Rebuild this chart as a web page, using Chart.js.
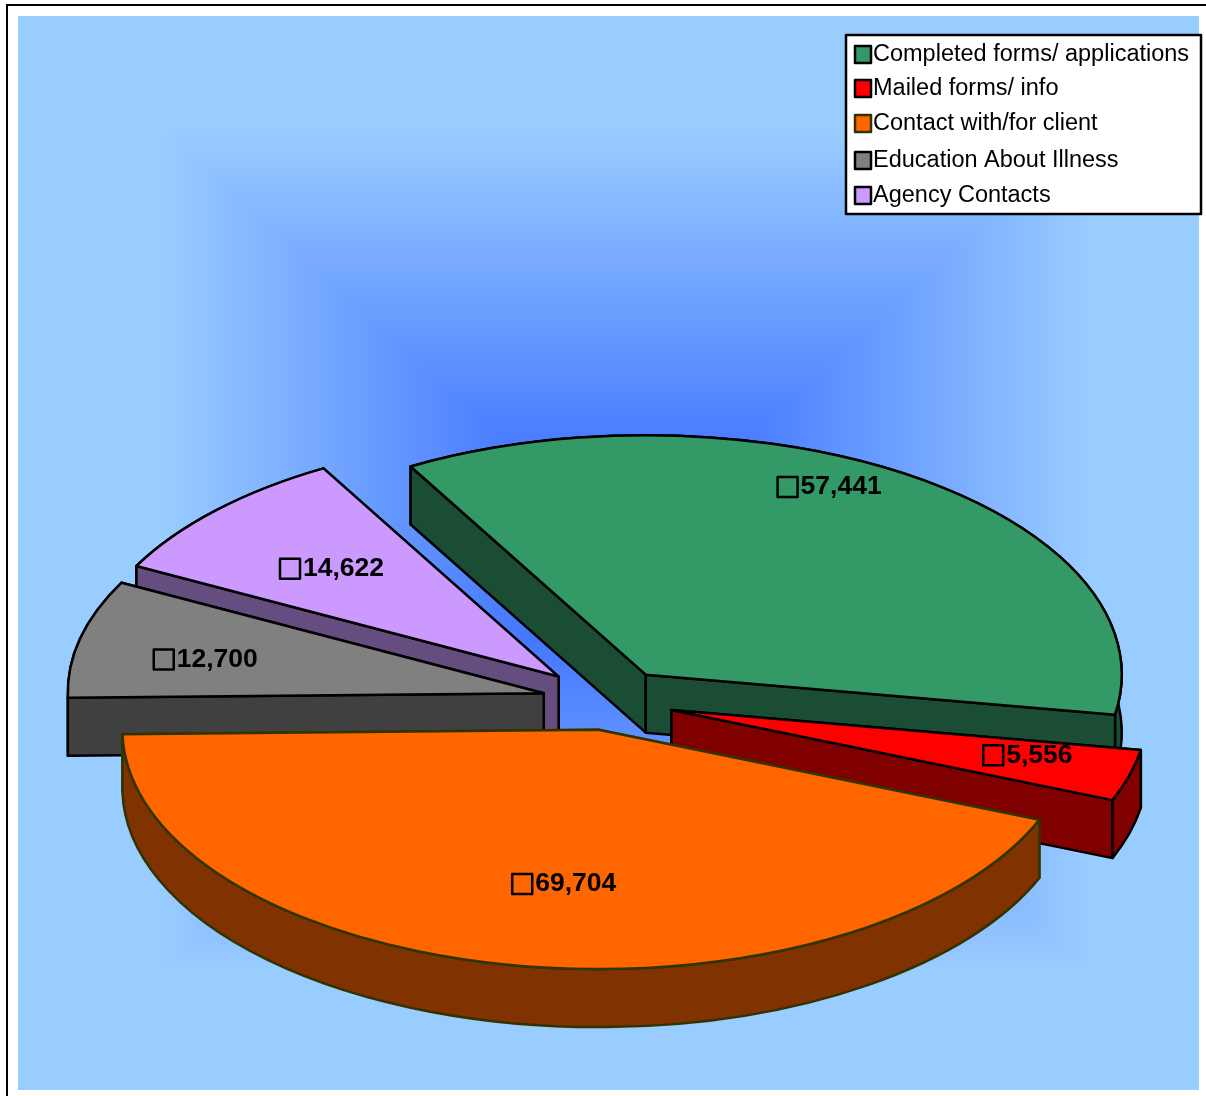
<!DOCTYPE html>
<html>
<head>
<meta charset="utf-8">
<style>
  html, body { margin: 0; padding: 0; background: #fff; }
  canvas { display: block; }
</style>
<script src="https://cdn.jsdelivr.net/npm/chart.js@4"></script>
</head>
<body>
<canvas id="pie" width="1206" height="1096" style="width:1206px;height:1096px"></canvas>
<script>
// Chart data
const categories = ['Completed forms/ applications', 'Mailed forms/ info', 'Contact with/for client', 'Education About Illness', 'Agency Contacts'];
const values = [57441, 5556, 69704, 12700, 14622];

// Slice styles
const topColors = ['#339966', '#ff0000', '#ff6600', '#808080', '#cc99ff'];
const sideColors = ['#1a4d33', '#800000', '#803300', '#404040', '#664d80'];
const edgeColors = ['#000000', '#000000', '#333300', '#000000', '#000000'];

// 3D look: how far each slice is pulled out, and the tilt of the pie
const explode = [64, 65, 58, 67, 70];
const drawOrder = [4, 3, 0, 1, 2];
const labelNudgeX = [-22, 47, -24, -102, -63];
const labelNudgeY = [-70, 6, 13, -1, -8];
const legendRowY = [54, 88, 123, 160, 195];
const TILT = 0.503;
const DEPTH = 58;
const CENTER_Y = 701;
const FONT = '"Liberation Sans", Arial, sans-serif';

function toScreen(arc) {
  const y = CENTER_Y + (arc.y - CENTER_Y) * TILT;
  return { x: arc.x, y, rx: arc.outerRadius, ry: arc.outerRadius * TILT };
}

// Rectangular "from centre" gradient of the plot area
function gradientTile() {
  const L = 18, T = 16, W = 1181, H = 1074, cx = 625 - L, cy = 550 - T;
  const tile = document.createElement('canvas');
  tile.width = W;
  tile.height = H;
  const tctx = tile.getContext('2d');
  const img = tctx.createImageData(W, H);
  for (let y = 0; y < H; y++) {
    for (let x = 0; x < W; x++) {
      const t = Math.min(1, Math.max(Math.abs(x - cx) / (0.78 * W / 2), Math.abs(y - cy) / (0.78 * H / 2)));
      const p = (y * W + x) * 4;
      img.data[p] = 46 + 107 * t;
      img.data[p + 1] = 96 + 108 * t;
      img.data[p + 2] = 255;
      img.data[p + 3] = 255;
    }
  }
  tctx.putImageData(img, 0, 0);
  return tile;
}
const bgTile = gradientTile();

function drawBackground(ctx) {
  ctx.save();
  ctx.fillStyle = '#ffffff';
  ctx.fillRect(0, 0, 1206, 1096);
  ctx.fillStyle = '#000000';
  ctx.fillRect(6, 4, 1200, 2);
  ctx.fillRect(6, 4, 2, 1092);
  ctx.drawImage(bgTile, 18, 16);
  ctx.restore();
}

function strokeFill(ctx, fill, edge) {
  ctx.closePath();
  ctx.fillStyle = fill;
  ctx.fill();
  ctx.strokeStyle = edge;
  ctx.lineWidth = 2.5;
  ctx.lineJoin = 'round';
  ctx.stroke();
}

function drawWalls(ctx, arc, i) {
  const s = toScreen(arc);
  const a0 = arc.startAngle, a1 = arc.endAngle;
  const px = a => s.x + s.rx * Math.cos(a);
  const py = a => s.y + s.ry * Math.sin(a);
  const radial = a => () => {
    ctx.beginPath();
    ctx.moveTo(s.x, s.y);
    ctx.lineTo(px(a), py(a));
    ctx.lineTo(px(a), py(a) + DEPTH);
    ctx.lineTo(s.x, s.y + DEPTH);
    strokeFill(ctx, sideColors[i], edgeColors[i]);
  };
  const rim = () => {
    ctx.beginPath();
    ctx.ellipse(s.x, s.y, s.rx, s.ry, 0, a0, a1);
    ctx.ellipse(s.x, s.y + DEPTH, s.rx, s.ry, 0, a1, a0, true);
    strokeFill(ctx, sideColors[i], edgeColors[i]);
  };
  // back walls first
  const walls = [
    { y: (s.y + py(a0)) / 2, draw: radial(a0) },
    { y: (s.y + py(a1)) / 2, draw: radial(a1) },
    { y: py((a0 + a1) / 2), draw: rim }
  ];
  walls.sort((a, b) => a.y - b.y).forEach(w => w.draw());
}

function drawTop(ctx, arc, i) {
  // the face itself comes from the library, squashed by the tilt
  ctx.save();
  ctx.translate(0, CENTER_Y);
  ctx.scale(1, TILT);
  ctx.translate(0, -CENTER_Y);
  arc.draw(ctx);
  ctx.restore();

  const s = toScreen(arc);
  ctx.beginPath();
  ctx.moveTo(s.x, s.y);
  ctx.ellipse(s.x, s.y, s.rx, s.ry, 0, arc.startAngle, arc.endAngle);
  ctx.closePath();
  ctx.strokeStyle = edgeColors[i];
  ctx.lineWidth = 2.5;
  ctx.lineJoin = 'round';
  ctx.stroke();
}

function drawValueLabels(ctx, arcs) {
  ctx.save();
  ctx.font = 'bold 26.5px ' + FONT;
  ctx.textBaseline = 'middle';
  ctx.textAlign = 'left';
  arcs.forEach((arc, i) => {
    const s = toScreen(arc);
    const mid = (arc.startAngle + arc.endAngle) / 2;
    const x = s.x + 0.6 * s.rx * Math.cos(mid) + labelNudgeX[i];
    const y = s.y + 0.6 * s.ry * Math.sin(mid) + labelNudgeY[i];
    ctx.strokeStyle = '#000000';
    ctx.lineWidth = 2.5;
    ctx.strokeRect(x - 10, y - 10, 20, 20);
    ctx.fillStyle = '#000000';
    ctx.fillText(values[i].toLocaleString('en-US'), x + 13, y);
  });
  ctx.restore();
}

function drawLegend(ctx) {
  ctx.save();
  ctx.fillStyle = '#ffffff';
  ctx.fillRect(846, 35, 355, 179);
  ctx.strokeStyle = '#000000';
  ctx.lineWidth = 2.5;
  ctx.strokeRect(846, 35, 355, 179);
  ctx.font = '23.5px ' + FONT;
  ctx.textBaseline = 'middle';
  ctx.textAlign = 'left';
  categories.forEach((name, i) => {
    const y = legendRowY[i];
    ctx.fillStyle = topColors[i];
    ctx.fillRect(855, y - 8, 16, 17);
    ctx.strokeStyle = edgeColors[i];
    ctx.lineWidth = 2.5;
    ctx.strokeRect(855, y - 8, 16, 17);
    ctx.fillStyle = '#000000';
    ctx.fillText(name, 873, y + 1);
  });
  ctx.restore();
}

const pie3d = {
  id: 'pie3d',
  afterDatasetsUpdate(chart) {
    chart.getDatasetMeta(0).data.forEach((arc, i) => {
      const mid = (arc.startAngle + arc.endAngle) / 2;
      arc.x += Math.cos(mid) * explode[i];
      arc.y += Math.sin(mid) * explode[i];
    });
  },
  beforeDraw(chart) {
    drawBackground(chart.ctx);
  },
  beforeDatasetDraw(chart) {
    const ctx = chart.ctx;
    const arcs = chart.getDatasetMeta(0).data;
    drawOrder.forEach(i => {
      drawWalls(ctx, arcs[i], i);
      drawTop(ctx, arcs[i], i);
    });
    return false;
  },
  afterDatasetsDraw(chart) {
    drawValueLabels(chart.ctx, chart.getDatasetMeta(0).data);
    drawLegend(chart.ctx);
  }
};

new Chart(document.getElementById('pie'), {
  type: 'pie',
  data: {
    labels: categories,
    datasets: [{
      data: values,
      backgroundColor: topColors,
      borderWidth: 0,
      clip: false
    }]
  },
  options: {
    responsive: false,
    animation: false,
    devicePixelRatio: 1,
    rotation: -29.6,
    radius: 476,
    layout: { padding: { left: 12, top: 306 } },
    events: [],
    plugins: {
      legend: { display: false },
      tooltip: { enabled: false }
    }
  },
  plugins: [pie3d]
});
</script>
</body>
</html>
